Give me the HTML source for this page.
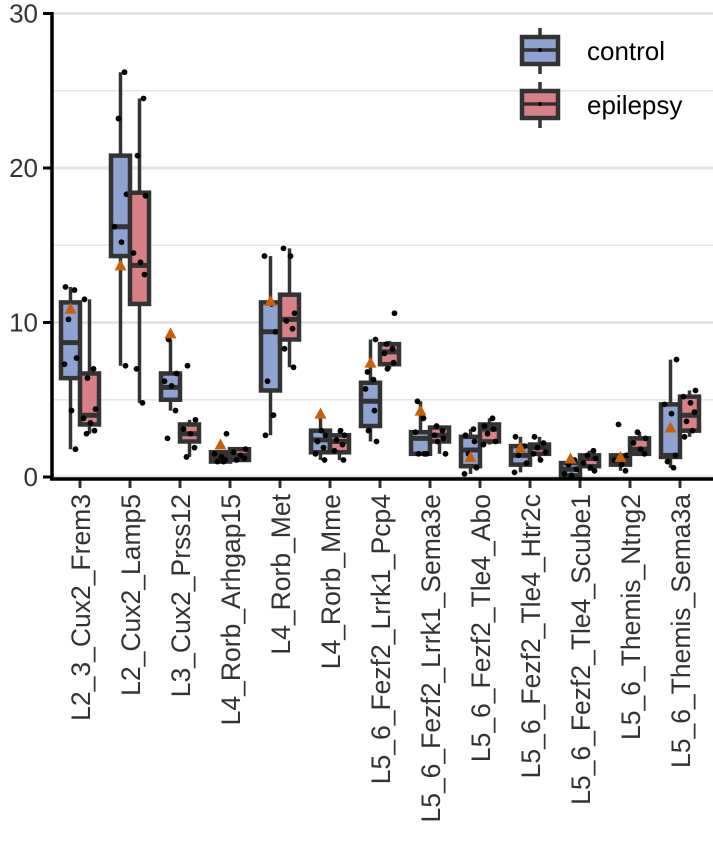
<!DOCTYPE html>
<html><head><meta charset="utf-8"><style>body{margin:0;background:#fff}svg{display:block;font-family:"Liberation Sans",sans-serif}</style></head>
<body>
<svg id="chart" width="713" height="862" viewBox="0 0 713 862" xmlns="http://www.w3.org/2000/svg">
<g id="grid"></g><g id="marks"></g><g id="axes"></g>
<g>
 <g>
  <line x1="540" y1="28" x2="540" y2="74" stroke="#333" stroke-width="3.5"/>
  <rect x="522" y="37" width="36" height="27" fill="#8fa3d3" stroke="#333" stroke-width="4.5"/>
  <line x1="522" y1="50" x2="558" y2="50" stroke="#333" stroke-width="3.5"/>
  <circle cx="540" cy="50" r="2" fill="#000"/>
  <text x="587" y="60" font-size="26" fill="#000">control</text>
 </g>
 <g>
  <line x1="540" y1="82" x2="540" y2="128" stroke="#333" stroke-width="3.5"/>
  <rect x="522" y="91" width="36" height="27" fill="#d97f86" stroke="#333" stroke-width="4.5"/>
  <line x1="522" y1="104" x2="558" y2="104" stroke="#333" stroke-width="3.5"/>
  <circle cx="540" cy="104" r="2" fill="#000"/>
  <text x="587" y="114" font-size="26" fill="#000">epilepsy</text>
 </g>
</g>
</svg>
<script>
const categories=["L2_3_Cux2_Frem3","L2_Cux2_Lamp5","L3_Cux2_Prss12","L4_Rorb_Arhgap15","L4_Rorb_Met","L4_Rorb_Mme","L5_6_Fezf2_Lrrk1_Pcp4","L5_6_Fezf2_Lrrk1_Sema3e","L5_6_Fezf2_Tle4_Abo","L5_6_Fezf2_Tle4_Htr2c","L5_6_Fezf2_Tle4_Scube1","L5_6_Themis_Ntng2","L5_6_Themis_Sema3a"];
// [whiskerLow, q1, median, q3, whiskerHigh]
const controlStats=[[1.8,6.4,8.7,11.3,12.3],[7.2,14.3,16.2,20.8,26.2],[4.3,5.0,5.8,6.7,8.9],[1.0,1.0,1.3,1.6,1.6],[2.7,5.6,9.4,11.3,14.3],[1.1,1.6,2.4,3.0,4.1],[2.3,3.3,4.9,6.1,8.9],[1.5,1.5,2.5,2.9,4.9],[0.2,0.7,1.75,2.6,3.1],[0.3,0.8,1.4,2.0,2.6],[0.1,0.1,0.5,0.9,1.1],[0.4,0.8,1.1,1.4,1.5],[0.6,1.3,1.4,4.7,7.6]];
const epilepsyStats=[[2.8,3.4,4.0,6.7,11.5],[4.8,11.2,13.7,18.4,24.5],[1.3,2.3,2.8,3.4,3.7],[1.1,1.1,1.4,1.8,1.8],[7.1,8.9,10.2,11.8,14.8],[1.1,1.6,2.3,2.7,3.0],[7.0,7.3,8.1,8.6,8.8],[1.5,2.3,2.7,3.2,3.3],[2.1,2.3,3.1,3.4,3.8],[1.1,1.5,1.9,2.1,2.6],[0.4,0.7,1.2,1.4,1.7],[1.5,1.5,1.8,2.5,2.9],[2.6,3.0,4.0,5.2,5.6]];
const controlMeans=[10.9,13.7,9.3,2.1,11.4,4.1,7.4,4.3,1.3,1.9,1.2,1.3,3.2];
const controlPoints=[[12.3,12.1,10.2,7.7,7.3,4.3,1.8],[26.2,23.2,18.3,16.2,15.2,7.2],[8.9,6.7,6.2,5.9,4.3,2.5],[2.8,1.5,1.3,1.1,1.0,1.0],[14.3,11.2,9.4,6.2,4.0,2.7],[3.0,2.7,2.3,1.9,1.5,1.1],[8.9,6.8,6.3,5.7,4.3,3.0,2.3],[4.9,3.8,2.9,1.5,1.5,1.5],[3.1,2.7,2.3,1.5,0.6,0.2],[2.6,2.0,1.4,0.9,0.3],[1.1,0.8,0.5,0.2,0.1],[3.4,1.4,1.1,0.8,0.4],[7.6,4.7,4.1,1.4,1.0,0.6]];
const epilepsyPoints=[[11.5,7.0,6.4,4.4,3.8,3.5,3.0,2.8],[24.5,20.8,18.2,14.5,13.9,13.1,7.0,4.8],[7.2,3.7,3.1,2.8,1.9,1.3],[1.8,1.6,1.4,1.2,1.1],[14.8,14.3,10.6,10.1,9.6,8.3,7.1],[3.0,2.7,2.4,2.1,1.7,1.1],[10.6,8.6,8.3,8.0,7.4,7.0],[3.3,3.0,2.7,2.5,2.3,1.5],[3.8,3.3,3.1,2.8,2.3,2.1],[2.6,2.2,1.9,1.6,1.5,1.1],[1.7,1.4,1.2,0.9,0.6,0.4],[2.9,2.5,2.2,1.8,1.5],[5.6,5.2,4.8,4.2,3.6,3.0,2.6]];
const yTicks=[0,10,20,30];
const yMinor=[5,15,25];

const NS="http://www.w3.org/2000/svg";
const X0=52,X1=713,Y0=477,PXU=15.45;
const y=v=>Y0-v*PXU;
const xc=i=>80+50*i;
function mk(tag,attrs,parent){const e=document.createElementNS(NS,tag);for(const k in attrs)e.setAttribute(k,attrs[k]);parent.appendChild(e);return e;}
const grid=document.getElementById('grid'),marks=document.getElementById('marks'),axes=document.getElementById('axes');
yMinor.forEach(v=>{const l=mk('line',{x1:X0,x2:X1,y1:y(v),y2:y(v),stroke:'#e6e6e6','stroke-width':1.5},grid);

});
yTicks.forEach(v=>{const l=mk('line',{x1:X0,x2:X1,y1:y(v),y2:y(v),stroke:'#e3e3e3','stroke-width':3},grid);


const t=mk('line',{x1:43,x2:X0,y1:y(v),y2:y(v),stroke:'#000','stroke-width':3},axes);


const tx=mk('text',{x:38,y:y(v)+9,'text-anchor':'end','font-size':26,fill:'#333'},axes);tx.textContent=v;

});
function jit(k){return [-5,4,-2,6,-6,1,5,-3,3][k%9];}
function box(i,s,off,fill,pts,name){
 const cx=xc(i)+off,w=19,g=mk('g',{},marks);
 
 
 mk('line',{x1:cx,x2:cx,y1:y(s[0]),y2:y(s[4]),stroke:'#333','stroke-width':3.5},g);
 mk('rect',{x:cx-w/2,y:y(s[3]),width:w,height:Math.max(y(s[1])-y(s[3]),2),fill:fill,stroke:'#333','stroke-width':4.5},g);
 mk('line',{x1:cx-w/2,x2:cx+w/2,y1:y(s[2]),y2:y(s[2]),stroke:'#333','stroke-width':5},g);
 pts.forEach((p,k)=>{const c=mk('circle',{cx:cx+jit(k+i),cy:y(p),r:2.9,fill:'#000'},g);
 
 });
}
categories.forEach((c,i)=>{
 box(i,controlStats[i],-9.5,'#8fa3d3',controlPoints[i],'box-control-'+i);
 box(i,epilepsyStats[i],9.5,'#d97f86',epilepsyPoints[i],'box-epilepsy-'+i);
 const cx=xc(i)-9.5,my=y(controlMeans[i]);
 const tri=mk('polygon',{points:`${cx-6},${my+5} ${cx+6},${my+5} ${cx},${my-6}`,fill:'#c8600a'},marks);
 
 
 const tk=mk('line',{x1:xc(i),x2:xc(i),y1:479,y2:488,stroke:'#333','stroke-width':3},axes);
 
 
 const t=mk('text',{x:0,y:0,transform:`translate(${xc(i)+10},494) rotate(-90)`,'text-anchor':'end','font-size':26.5,fill:'#333'},axes);
 t.textContent=c;
 
 
});
const ya=mk('line',{x1:X0,x2:X0,y1:12,y2:480,stroke:'#000','stroke-width':3.5},axes);


const xa=mk('line',{x1:X0-2,x2:X1,y1:479,y2:479,stroke:'#000','stroke-width':3.5},axes);


</script>
</body></html>
